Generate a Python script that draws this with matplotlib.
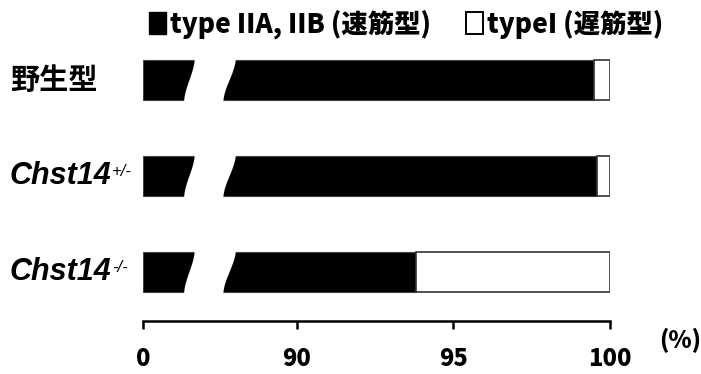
import numpy as np
import matplotlib
matplotlib.use("Agg")
import matplotlib.pyplot as plt
import matplotlib.transforms as mtransforms
from matplotlib.patches import Patch, Polygon

# data (%)
groups = ["野生型", "Chst14", "Chst14"]
group_sup = ["", "+/-", "-/-"]
fast = [99.5, 99.6, 93.8]          # type IIA, IIB
slow = [100 - v for v in fast]     # type I
ticks = [0, 90, 95, 100]
legend_labels = ["type IIA, IIB (速筋型)", "typeI (遅筋型)"]

CJK = ["Noto Sans CJK JP", "DejaVu Sans"]

# broken x scale: 0..88 squeezed into a short stub, 88..100 linear
ZERO_AT = 85.08
K = 88.0
SLOPE = (K - ZERO_AT) / K


def fwd(v):
    v = np.asarray(v, dtype=float)
    return np.where(v < K, ZERO_AT + v * SLOPE, v)


def inv(u):
    u = np.asarray(u, dtype=float)
    return np.where(u < K, (u - ZERO_AT) / SLOPE, u)


fig = plt.figure(figsize=(7.01, 3.74), dpi=100)
ax = fig.add_axes([143 / 701, 1 - 321 / 374, (610 - 143) / 701, 271 / 374])
ax.set_xscale("function", functions=(fwd, inv))

ypos = np.arange(len(groups))
h = 0.42
ax.barh(ypos, fast, height=h, color="black", edgecolor="#444444", lw=0.8)
ax.barh(ypos, slow, left=fast, height=h, color="white", edgecolor="#333333", lw=1.2)

ax.set_xlim(0, 100)
ax.set_ylim(2.512, -0.313)

# break marks (white S-shaped gap through each bar)
bt = mtransforms.blended_transform_factory(ax.transAxes, ax.transData)
t = np.linspace(0, 1, 40)
s = 3 * t**2 - 2 * t**3
for y in ypos:
    yy = y + h / 2 + 0.03 - t * (h + 0.06)
    xl = 0.088 + (0.111 - 0.088) * s
    xr = 0.172 + (0.199 - 0.172) * s
    pts = np.vstack([np.column_stack([xl, yy]), np.column_stack([xr, yy])[::-1]])
    ax.add_patch(Polygon(pts, closed=True, transform=bt, facecolor="white",
                         edgecolor="none", zorder=5))

for sp in ["left", "right", "top"]:
    ax.spines[sp].set_visible(False)
ax.spines["bottom"].set_linewidth(1.8)
ax.set_yticks([])
ax.set_xticks(ticks)
ax.set_xticklabels([str(v) for v in ticks], fontfamily=CJK, fontweight="heavy", fontsize=17)
ax.tick_params(axis="x", direction="out", length=6, width=1.8, pad=12)
ax.xaxis.set_minor_locator(matplotlib.ticker.NullLocator())

fig.text(680 / 701, 1 - 341 / 374, "(%)", ha="center", va="center",
         fontfamily=CJK, fontweight="heavy", fontsize=17)

# group labels
lt = mtransforms.blended_transform_factory(fig.transFigure, ax.transData)
for y, name, sup in zip(ypos, groups, group_sup):
    if sup:
        txt = ax.text(10 / 701, y, name, transform=lt, ha="left", va="center",
                      fontfamily="Liberation Sans", fontweight="bold",
                      style="italic", fontsize=22)
        ax.annotate(sup, xy=(1, 1), xycoords=txt, xytext=(0, -2),
                    textcoords="offset points", ha="left", va="top",
                    fontfamily="Liberation Sans", style="italic", fontsize=12)
    else:
        ax.text(10 / 701, y, name, transform=lt, ha="left", va="center",
                fontfamily=CJK, fontweight="bold", fontsize=21)

handles = [Patch(facecolor="black", edgecolor="black"),
           Patch(facecolor="white", edgecolor="black", lw=1.4)]
fig.legend(handles, legend_labels, loc="upper left", ncol=2,
           bbox_to_anchor=(136 / 701, 1.01), frameon=False,
           prop={"family": CJK, "weight": "heavy", "size": 19},
           handlelength=0.65, handleheight=0.9, handletextpad=0.15,
           columnspacing=1.3, borderaxespad=0.1)

fig.savefig("out.png", dpi=100)
